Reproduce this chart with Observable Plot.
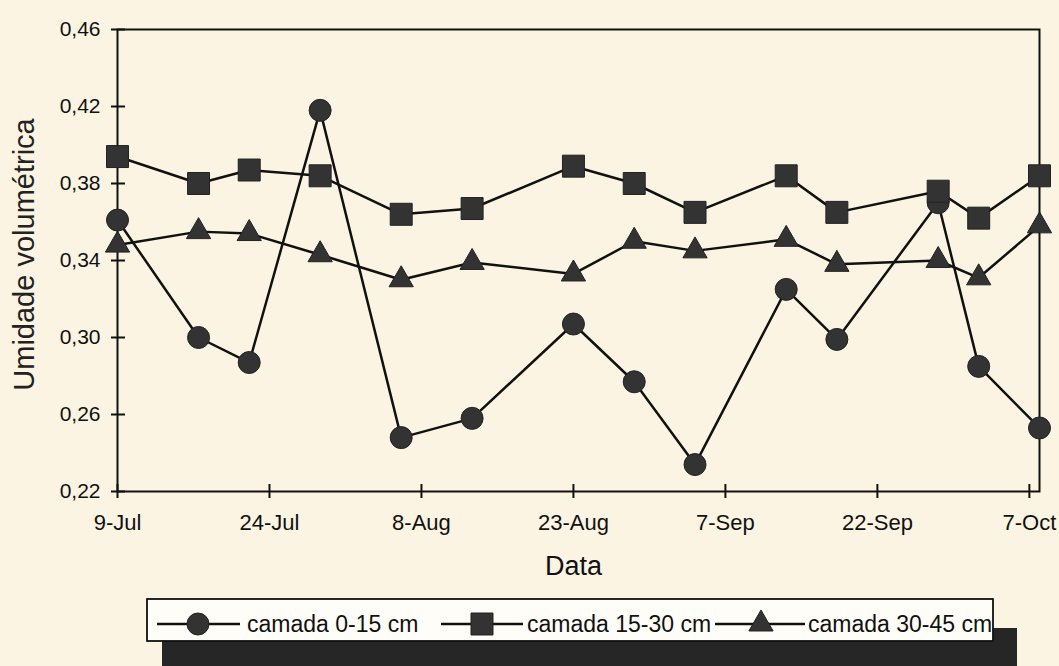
<!DOCTYPE html>
<html>
<head>
<meta charset="utf-8">
<script src="https://cdn.jsdelivr.net/npm/d3@7"></script>
<script src="https://cdn.jsdelivr.net/npm/@observablehq/plot@0.6"></script>
<style>
  html, body { margin: 0; padding: 0; background: #fbf4e2; }
  #wrap { width: 1059px; height: 666px; overflow: hidden; position: relative; }
  svg { display: block; }
</style>
</head>
<body>
<div id="wrap"></div>
<script>
// ---- data ----
const dates = ["2001-07-09","2001-07-17","2001-07-22","2001-07-29","2001-08-06","2001-08-13","2001-08-23",
               "2001-08-29","2001-09-04","2001-09-13","2001-09-18","2001-09-28","2001-10-02","2001-10-08"];
const camada0_15  = [0.361,0.300,0.287,0.418,0.248,0.258,0.307,0.277,0.234,0.325,0.299,0.370,0.285,0.253];
const camada15_30 = [0.394,0.380,0.387,0.384,0.364,0.367,0.389,0.380,0.365,0.384,0.365,0.376,0.362,0.384];
const camada30_45 = [0.348,0.355,0.354,0.343,0.330,0.339,0.333,0.350,0.345,0.351,0.338,0.340,0.331,0.358];
const seriesNames = ["camada 0-15 cm","camada 15-30 cm","camada 30-45 cm"];
const xTickLabels = ["2001-07-09","2001-07-24","2001-08-08","2001-08-23","2001-09-07","2001-09-22","2001-10-07"];
const yTicks = [0.22,0.26,0.30,0.34,0.38,0.42,0.46];
const xDomain = ["2001-07-09","2001-10-08"];

const parse = s => new Date(s + "T00:00:00Z");
const mk = vals => dates.map((d, i) => ({date: parse(d), v: vals[i]}));
const s1 = mk(camada0_15), s2 = mk(camada15_30), s3 = mk(camada30_45);
const xTicks = xTickLabels.map(parse);
const fmtX = d3.utcFormat("%-d-%b");
const fmtY = d => d.toFixed(2).replace(".", ",");

const FONT = "'Liberation Sans', Arial, Helvetica, sans-serif";
const INK = "#111";
const MFILL = "#333";
const lineOpt = {x: "date", y: "v", stroke: INK, strokeWidth: 2.5};
const dotOpt = (sym, r) => ({x: "date", y: "v", symbol: sym, r, fill: MFILL, stroke: "#222", strokeWidth: 1});

const chart = Plot.plot({
  width: 1059, height: 597,
  marginLeft: 117, marginRight: 20, marginTop: 29, marginBottom: 106,
  style: {background: "transparent", fontFamily: FONT, color: INK, overflow: "visible"},
  x: {type: "utc", domain: xDomain.map(parse)},
  y: {domain: [0.22, 0.46]},
  marks: [
    Plot.frame({stroke: INK, strokeWidth: 2}),
    Plot.axisY({ticks: yTicks, tickSize: 14, dx: 8, tickFormat: () => "", label: null, strokeWidth: 2}),
    Plot.axisY({ticks: yTicks, tickSize: 0, tickPadding: 17, tickFormat: fmtY, fontSize: 21, label: null}),
    Plot.axisX({ticks: xTicks, tickSize: 14, dy: -7, tickFormat: () => "", label: null, strokeWidth: 2}),
    Plot.axisX({ticks: xTicks, tickSize: 0, tickPadding: 23, tickFormat: fmtX, fontSize: 22, label: null}),
    Plot.line(s1, lineOpt),
    Plot.dot(s1, dotOpt("circle", 11)),
    Plot.line(s2, lineOpt),
    Plot.dot(s2, dotOpt("square", 12.4)),
    Plot.line(s3, lineOpt),
    Plot.dot(s3, dotOpt("triangle", 9)),
    Plot.text(["Data"], {text: d => d, frameAnchor: "bottom", dx: -5, dy: 83, fontSize: 27, fill: INK}),
    Plot.text(["Umidade volumétrica"], {text: d => d, frameAnchor: "left", textAnchor: "middle", dx: -93, dy: -6, rotate: -90, fontSize: 29, fill: "#222"})
  ]
});
document.getElementById("wrap").appendChild(chart);

// ---- legend (below the chart) ----
const lg = d3.select("#wrap").append("svg").attr("width", 1059).attr("height", 69)
  .style("font-family", FONT);
lg.append("rect").attr("x", 162).attr("y", 31).attr("width", 855).attr("height", 42).attr("fill", "#262626");
lg.append("rect").attr("x", 147).attr("y", 2).attr("width", 846).attr("height", 42)
  .attr("fill", "#fffdf7").attr("stroke", INK).attr("stroke-width", 1.8);
const cy = 27;
const items = [
  {name: seriesNames[0], x1: 157, x2: 240, mx: 198, sym: d3.symbolCircle, r: 11, tx: 247},
  {name: seriesNames[1], x1: 441, x2: 523, mx: 482, sym: d3.symbolSquare, r: 12.4, tx: 527},
  {name: seriesNames[2], x1: 715, x2: 805, mx: 761, sym: d3.symbolTriangle, r: 9, tx: 808}
];
items.forEach(it => {
  lg.append("line").attr("x1", it.x1).attr("x2", it.x2).attr("y1", cy).attr("y2", cy)
    .attr("stroke", INK).attr("stroke-width", 2.5);
  lg.append("path").attr("d", d3.symbol(it.sym, Math.PI * it.r * it.r)())
    .attr("transform", `translate(${it.mx},${cy})`).attr("fill", MFILL).attr("stroke", "#222");
  lg.append("text").attr("x", it.tx).attr("y", cy).attr("dy", "0.35em")
    .attr("font-size", 23).attr("fill", INK).text(it.name);
});
</script>
</body>
</html>
